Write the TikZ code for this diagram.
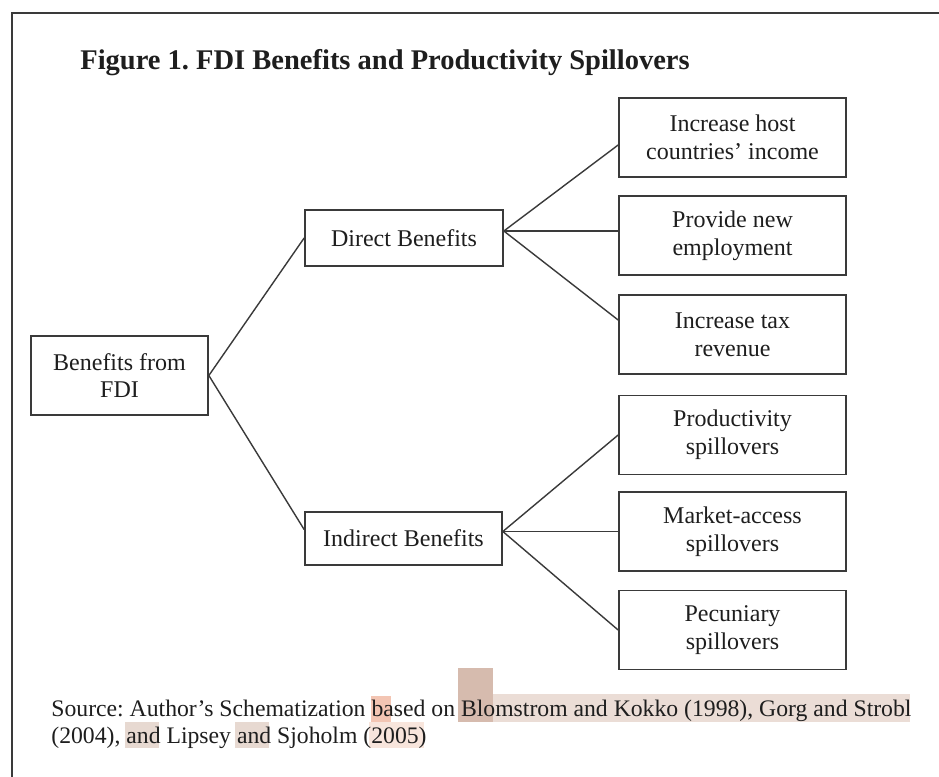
\documentclass[tikz,border=0pt]{standalone}
\usepackage{fontspec}
\setmainfont{Liberation Serif}
\usepackage{tikz}
\usetikzlibrary{positioning}
\definecolor{framegray}{HTML}{3A3A3A}
\definecolor{inkgray}{HTML}{1E1E1E}
\definecolor{hlstrip}{HTML}{EBDDD6}
\definecolor{hltall}{HTML}{D6BBAE}
\definecolor{hlsalmon}{HTML}{F3C5B3}
\definecolor{hland}{HTML}{E7D9D1}
\definecolor{hllight}{HTML}{F8E5DC}
\frenchspacing

\begin{document}
\begin{tikzpicture}[x=0.5pt,y=-0.5pt,
  box/.style={draw=framegray, line width=0.85pt, align=center, inner sep=0pt, text=inkgray, font=\fontsize{12}{13.8}\selectfont},
  leafbox/.style={box, minimum width=113.5pt, minimum height=39.5pt},
  link/.style={draw=framegray, line width=0.7pt},
  srctext/.style={anchor=base west, inner sep=0pt, text=inkgray, font=\fontsize{11.85}{13.5}\selectfont}]
\useasboundingbox (0,0) rectangle (939,777);
\fill [white] (0,0) rectangle (939,777);
\draw [framegray, line width=1pt] (12,777) -- (12,13) -- (939,13);
\node [anchor=base west, inner sep=0pt, text=inkgray, font=\fontsize{14.25}{16}\selectfont\bfseries] (title) at (80,69) {Figure 1. FDI Benefits and Productivity Spillovers};
\node [box, minimum width=88.5pt, minimum height=39.5pt] (root) at (119.5,375.5) {Benefits from\\FDI};
\node [box, minimum width=99pt, minimum height=28pt] (direct) at (404,238) {Direct Benefits};
\node [box, minimum width=98.5pt, minimum height=26.5pt] (indirect) at (403.5,538.5) {Indirect Benefits};
\node [leafbox] (income) at (732.5,137.5) {Increase host\\countries' income};
\node [leafbox] (employ) at (732.5,235.5) {Provide new\\employment};
\node [leafbox] (tax) at (732.5,334.5) {Increase tax\\revenue};
\node [leafbox] (prod) at (732.5,435) {Productivity\\spillovers};
\node [leafbox] (market) at (732.5,531.5) {Market-access\\spillovers};
\node [leafbox] (pecun) at (732.5,630) {Pecuniary\\spillovers};
\draw [link] (root.east) -- (direct.west);
\draw [link] (root.east) -- ([yshift=4.5pt]indirect.west);
\coordinate (dfork) at ([yshift=3.5pt]direct.east);
\draw [link] (dfork) -- ([yshift=-3.75pt]income.west);
\draw [link] (dfork) -- ([yshift=2.25pt]employ.west);
\draw [link] (dfork) -- ([yshift=7.25pt]tax.west);
\coordinate (ifork) at ([yshift=3.5pt]indirect.east);
\draw [link] (ifork) -- (prod.west);
\draw [link] (ifork) -- (market.west);
\draw [link] (ifork) -- (pecun.west);
\fill [hlstrip] (458,694) rectangle (910,722);
\fill [hltall] (458,668) rectangle (493,722);
\fill [hlsalmon] (371,696) rectangle (391,722);
\fill [hland] (125,722) rectangle (159,748);
\fill [hland] (235,722) rectangle (269,748);
\fill [hllight] (369,722) rectangle (424,748);
\node [srctext] (src1) at (51,716) {Source: Author's Schematization based on Blomstrom and Kokko (1998), Gorg and Strobl};
\node [srctext] (src2) at (51,743) {(2004), and Lipsey and Sjoholm (2005)};
\end{tikzpicture}
\end{document}
